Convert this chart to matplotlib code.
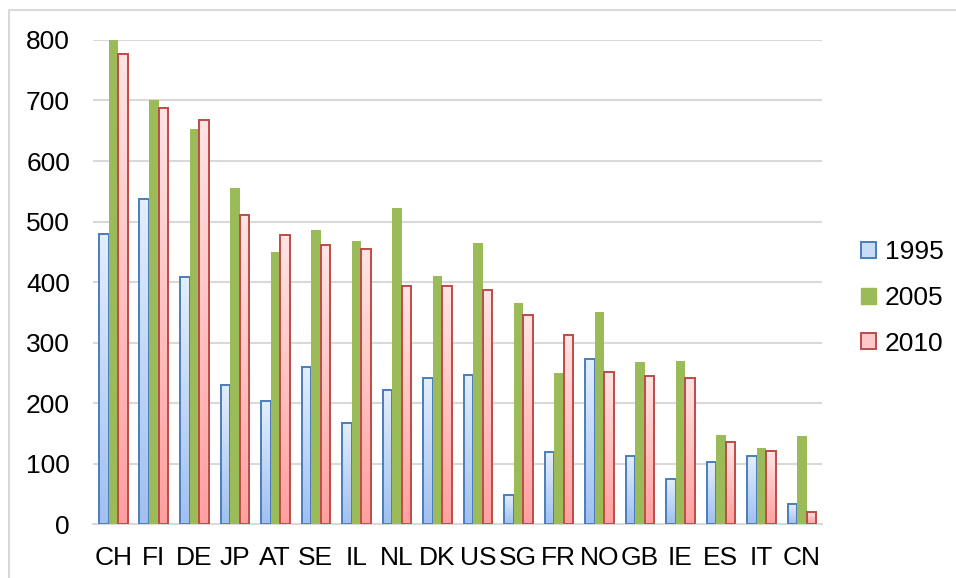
import numpy as np
import matplotlib.pyplot as plt
from matplotlib.colors import LinearSegmentedColormap
from matplotlib.patches import Patch, Rectangle

countries = ['CH', 'FI', 'DE', 'JP', 'AT', 'SE', 'IL', 'NL', 'DK', 'US',
             'SG', 'FR', 'NO', 'GB', 'IE', 'ES', 'IT', 'CN']
v1995 = [480, 537, 408, 230, 203, 260, 167, 222, 242, 246,
         48, 119, 272, 112, 75, 103, 113, 33]
v2005 = [800, 700, 653, 555, 450, 486, 468, 522, 410, 465,
         365, 250, 351, 268, 270, 147, 126, 146]
v2010 = [777, 688, 667, 510, 478, 461, 455, 394, 393, 387,
         346, 313, 252, 244, 242, 135, 120, 20]
years = ['1995', '2005', '2010']

plt.rcParams['font.family'] = ['Liberation Sans', 'DejaVu Sans']

fig = plt.figure(figsize=(9.56, 5.78), dpi=100)
ax = fig.add_axes([0.0973, 0.0934, 0.7626, 0.8374])

x = np.arange(len(countries))
w = 0.235
grad = np.linspace(0, 1, 64).reshape(-1, 1)
blue_cmap = LinearSegmentedColormap.from_list('blue', ['#a0c0f0', '#e4eefc'])
red_cmap = LinearSegmentedColormap.from_list('red', ['#ffa0a0', '#ffe4e4'])


# bars with a vertical gradient fill, clipped to each bar
def gradient_bars(xpos, vals, cmap, edge):
    bars = ax.bar(xpos, vals, w, facecolor='none', edgecolor=edge,
                  linewidth=1.4, zorder=3)
    for b in bars:
        x0, y0 = b.get_x(), b.get_y()
        im = ax.imshow(grad, extent=(x0, x0 + b.get_width(), y0, y0 + b.get_height()),
                       origin='lower', cmap=cmap, aspect='auto', zorder=2)
        im.set_clip_path(b)


gradient_bars(x - w, v1995, blue_cmap, '#4a7ebb')
ax.bar(x, v2005, w, color='#9bbb59', zorder=3)
gradient_bars(x + w, v2010, red_cmap, '#be4b48')

ax.set_xlim(-0.5, len(countries) - 0.5)
ax.set_ylim(0, 800)
ax.set_yticks(range(0, 801, 100))
ax.set_xticks(x)
ax.set_xticklabels(countries)
ax.tick_params(length=0, labelsize=19, colors='black')
ax.tick_params(axis='y', pad=16.5)
ax.tick_params(axis='x', pad=15.5)
ax.grid(axis='y', color='#d9d9d9', linewidth=1.5)
ax.set_axisbelow(True)
for s in ['top', 'right', 'left']:
    ax.spines[s].set_visible(False)
ax.spines['bottom'].set_color('#d9d9d9')
ax.spines['bottom'].set_linewidth(1.5)

handles = [Patch(facecolor='#c8dcf7', edgecolor='#4a7ebb', linewidth=1.4),
           Patch(facecolor='#9bbb59', edgecolor='#9bbb59'),
           Patch(facecolor='#ffc8c8', edgecolor='#be4b48', linewidth=1.4)]
fig.legend(handles, years, loc='center left', bbox_to_anchor=(861 / 956, (578 - 298) / 578),
           frameon=False, fontsize=19, handlelength=0.55, handleheight=0.55,
           handletextpad=0.35, labelspacing=0.82, borderaxespad=0, borderpad=0)

# light outer chart border
fig.patches.append(Rectangle((9 / 956, -0.1), 1.1, 1.0827, transform=fig.transFigure,
                             fill=False, edgecolor='#d9d9d9', linewidth=1.5))

fig.savefig('out.png', dpi=100)
